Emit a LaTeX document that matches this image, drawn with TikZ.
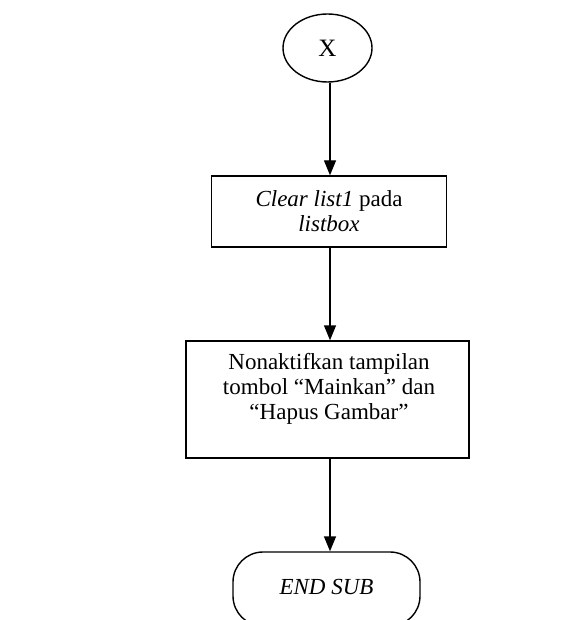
\documentclass[tikz,border=0pt]{standalone}
\usepackage{fontspec}
\setmainfont{Liberation Serif}
\usetikzlibrary{shapes.geometric,arrows.meta}
\begin{document}
\begin{tikzpicture}[x=1pt,y=-1pt,
  every node/.style={font=\fontsize{23}{25}\selectfont},
  shape line/.style={draw=black, line width=1.4pt},
  startnode/.style={shape line, ellipse, minimum width=89pt, minimum height=68pt, inner sep=0pt},
  procbox/.style={shape line, rectangle, inner sep=0pt},
  endnode/.style={shape line, rectangle, rounded corners=30pt, minimum width=187pt, minimum height=74pt, inner sep=0pt},
  flow/.style={line width=1.4pt, -{Triangle[length=15pt,width=12pt]}}]
\useasboundingbox (0,0) rectangle (571,620);

% connector column
\coordinate (axis) at (330,0);

% start connector
\node[startnode] (x) at (327.5,48) {\fontsize{25}{27}\selectfont X};

% clear the list
\node[procbox, minimum width=235pt, minimum height=71pt, align=center] (b1) at (329,211.5)
  {\textit{Clear list1} pada\\\textit{listbox}};

% disable the buttons
\node[procbox, minimum width=283pt, minimum height=117pt] (b2) at (327.5,399.5) {};
\node[anchor=north, align=center] (b2text) at (329,350)
  {Nonaktifkan tampilan\\tombol “Mainkan” dan\\“Hapus Gambar”};

% end of the subroutine (runs past the lower edge)
\node[endnode] (end) at (326.5,589) {\raisebox{5pt}{\textit{END SUB}}};

% flow
\draw[flow] (x.south -| axis) -- (b1.north -| axis);
\draw[flow] (b1.south -| axis) -- (b2.north -| axis);
\draw[flow] (b2.south -| axis) -- (end.north -| axis);
\end{tikzpicture}
\end{document}
